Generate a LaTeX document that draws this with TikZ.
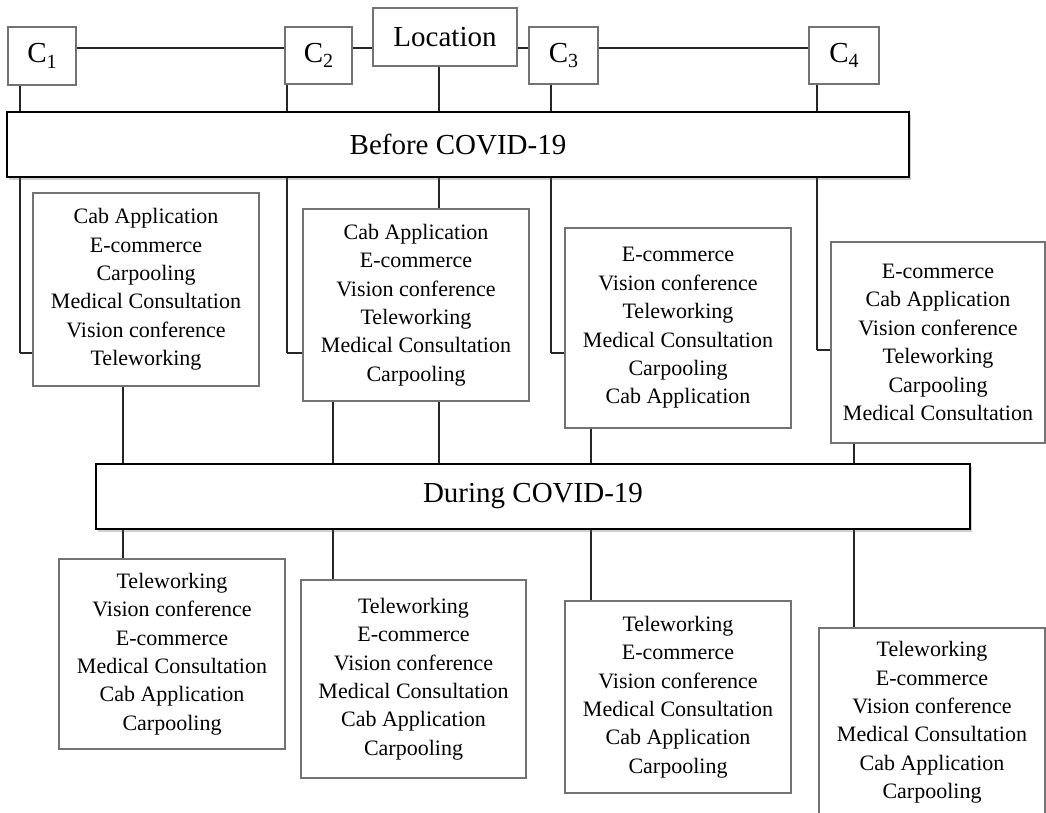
\documentclass[tikz,border=0pt]{standalone}
\usepackage{fontspec}
\setmainfont{Liberation Serif}
\usetikzlibrary{shadows,backgrounds}
\tikzset{
  lbox/.style={draw=black!55, line width=1.2pt, fill=white, inner sep=0pt, align=center,
    font=\fontsize{22pt}{28.4pt}\selectfont},
  cbox/.style={draw=black!55, line width=1.2pt, fill=white, inner sep=0pt, align=center,
    font=\fontsize{29pt}{34pt}\selectfont},
  hbox/.style={draw=black, line width=2pt, fill=white, inner sep=0pt, align=center,
    font=\fontsize{29pt}{34pt}\selectfont,
    drop shadow={shadow xshift=1.5pt, shadow yshift=-3pt, opacity=0.3, fill=black!60}},
  conn/.style={draw=black!85, line width=1.3pt},
  thickconn/.style={draw=black!85, line width=2.4pt},
}
\newcommand{\csub}[1]{C\raisebox{-0.18em}{\fontsize{20pt}{20pt}\selectfont #1}}
\begin{document}
\begin{tikzpicture}[x=1pt,y=-1pt]
\useasboundingbox (0,0) rectangle (1046,813);
% top row
\node[cbox, minimum width=68pt, minimum height=58pt] (C1) at (42,56) {\csub{1}};
\node[cbox, minimum width=67pt, minimum height=57pt] (C2) at (318.5,55.5) {\csub{2}};
\node[cbox, minimum width=144pt, minimum height=58pt] (Loc) at (445,37) {Location};
\node[cbox, minimum width=69pt, minimum height=57pt] (C3) at (563.5,55.5) {\csub{3}};
\node[cbox, minimum width=70pt, minimum height=57pt] (C4) at (844,55.5) {\csub{4}};
% headers
\node[hbox, minimum width=902pt, minimum height=65pt] (Before) at (458,144.5) {Before COVID-19};
\node[hbox, minimum width=874pt, minimum height=65pt] (During) at (533,496.5) {During COVID-19};
% before lists
\node[lbox, minimum width=226pt, minimum height=193pt] (B1) at (146,289.5)
  {Cab Application\\E-commerce\\Carpooling\\Medical Consultation\\Vision conference\\Teleworking};
\node[lbox, minimum width=226pt, minimum height=192pt] (B2) at (416,305)
  {Cab Application\\E-commerce\\Vision conference\\Teleworking\\Medical Consultation\\Carpooling};
\node[lbox, minimum width=226pt, minimum height=200pt] (B3) at (678,328)
  {E-commerce\\Vision conference\\Teleworking\\Medical Consultation\\Carpooling\\Cab Application};
\node[lbox, minimum width=214pt, minimum height=201pt] (B4) at (938,342.5)
  {E-commerce\\Cab Application\\Vision conference\\Teleworking\\Carpooling\\Medical Consultation};
% during lists
\node[lbox, minimum width=226pt, minimum height=190pt] (D1) at (172,654)
  {Teleworking\\Vision conference\\E-commerce\\Medical Consultation\\Cab Application\\Carpooling};
\node[lbox, minimum width=225pt, minimum height=198pt] (D2) at (413.5,679)
  {Teleworking\\E-commerce\\Vision conference\\Medical Consultation\\Cab Application\\Carpooling};
\node[lbox, minimum width=226pt, minimum height=192pt] (D3) at (678,697)
  {Teleworking\\E-commerce\\Vision conference\\Medical Consultation\\Cab Application\\Carpooling};
\node[lbox, minimum width=226pt, minimum height=189pt] (D4) at (932,722.5)
  {Teleworking\\E-commerce\\Vision conference\\Medical Consultation\\Cab Application\\Carpooling};
% column coordinates
\coordinate (xa) at (20,0);
\coordinate (xb) at (287,0);
\coordinate (xc) at (439,0);
\coordinate (xd) at (551,0);
\coordinate (xe) at (817,0);
\coordinate (xf) at (123,0);
\coordinate (xg) at (333,0);
\coordinate (xh) at (591,0);
\coordinate (xi) at (854,0);
\coordinate (elb) at (0,353);
\coordinate (elbe) at (0,350);
\begin{pgfonlayer}{background}
\fill[white] (0,0) rectangle (1046,813);
\draw[thickconn] ([yshift=8pt]C1.east) -- ([yshift=8pt]C1.east -| C4.west);
\draw[conn] (C1.south -| xa) -- (xa |- elb);
\draw[thickconn] (xa |- elb) -- (B1.west |- elb);
\draw[conn] (C2.south -| xb) -- (xb |- elb);
\draw[thickconn] (xb |- elb) -- (B2.west |- elb);
\draw[conn] (C3.south -| xd) -- (xd |- elb);
\draw[thickconn] (xd |- elb) -- (B3.west |- elb);
\draw[conn] (C4.south -| xe) -- (xe |- elbe);
\draw[thickconn] (xe |- elbe) -- (B4.west |- elbe);
\draw[conn] (Loc.south -| xc) -- (B2.north -| xc);
\draw[conn] (B2.south -| xc) -- (During.north -| xc);
\draw[conn] (B1.south -| xf) -- (D1.north -| xf);
\draw[conn] (B2.south -| xg) -- (D2.north -| xg);
\draw[conn] (B3.south -| xh) -- (D3.north -| xh);
\draw[conn] (B4.south -| xi) -- (D4.north -| xi);
\end{pgfonlayer}
\end{tikzpicture}
\end{document}
